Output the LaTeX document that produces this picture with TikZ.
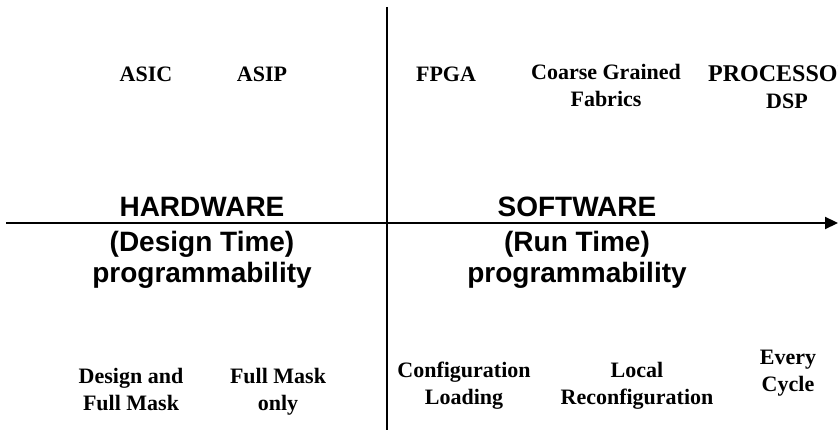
\documentclass[tikz,border=0pt]{standalone}
\usepackage{fontspec}
\setmainfont{Liberation Serif}
\newfontfamily\hsans{Liberation Sans}
\usetikzlibrary{arrows.meta}
\begin{document}
\begin{tikzpicture}[x=1pt,y=-1pt,
  item/.style={font=\fontsize{22}{27}\selectfont\bfseries, align=center, inner sep=0pt, anchor=base},
  head/.style={font=\hsans\fontsize{28}{31}\selectfont\bfseries, align=center, inner sep=0pt, anchor=base},
  axis/.style={line width=2.2pt}]
\useasboundingbox (0,0) rectangle (838,430);
\clip (0,0) rectangle (838,430);
\coordinate (xl) at (6,223);
\coordinate (xr) at (838,223);
\coordinate (yt) at (387,7);
\coordinate (yb) at (387,430);
\draw[axis] (yt) -- (yb);
\draw[axis, -{Triangle[length=13pt,width=12pt]}] (xl) -- (xr);
% top row
\node[item] (asic) at (146,82) {ASIC};
\node[item] (asip) at (262,82) {ASIP};
\node[item] (fpga) at (446,82) {FPGA};
\node[item] (cgf) at (606,107) {Coarse Grained\\Fabrics};
\node[item, anchor=base west, font=\fontsize{24}{27}\selectfont\bfseries] (proc) at (708,82) {PROCESSOR};
\node[item] (dsp) at (787,109) {DSP};
% headings
\node[head] (hw) at (202,217) {HARDWARE};
\node[head] (sw) at (577,217) {SOFTWARE};
\node[head] (dt) at (202,283) {(Design Time)\\programmability};
\node[head] (rt) at (577,283) {(Run Time)\\programmability};
% bottom row
\node[item] (dfm) at (131,410) {Design and\\Full Mask};
\node[item] (fmo) at (278,410) {Full Mask\\only};
\node[item] (cfg) at (464,404) {Configuration\\Loading};
\node[item] (loc) at (637,404) {Local\\Reconfiguration};
\node[item] (evc) at (788,391) {Every\\Cycle};
\end{tikzpicture}
\end{document}
